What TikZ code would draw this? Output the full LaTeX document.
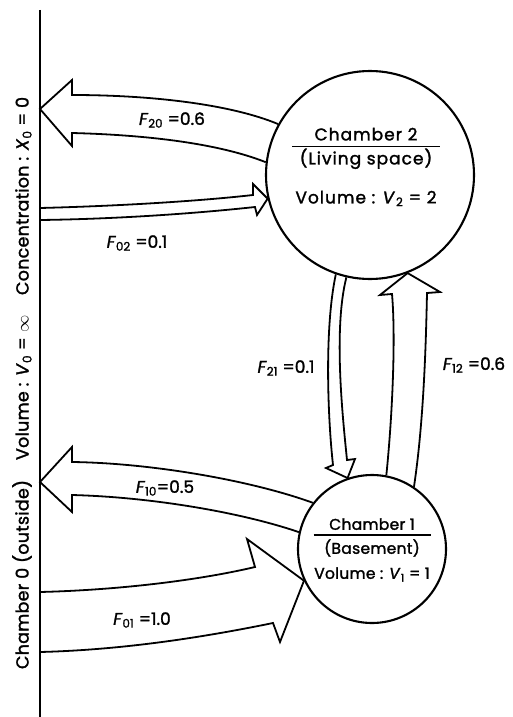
\documentclass[tikz,border=0pt]{standalone}
\usepackage{fontspec}
\setmainfont{Poppins}[UprightFeatures={FakeBold=1.6}, ItalicFeatures={FakeBold=1.6}]
\usetikzlibrary{positioning, calc, backgrounds}

\begin{document}
\begin{tikzpicture}[
      x=1pt, y=-1pt,
      chamber/.style = {
        circle, draw=black, line width=2.1pt, fill=white, inner sep=0pt
      },
      roomtxt/.style = {
        align=center, inner sep=0pt,
        font=\fontsize{17}{19}\selectfont\addfontfeature{LetterSpace=6}
      },
      flow/.style    = {draw=black, line width=1.8pt, line join=miter},
      flowlbl/.style = {font=\fontsize{17}{18}\selectfont, inner sep=1pt},
      walllbl/.style = {rotate=90,
        font=\fontsize{17.5}{19}\selectfont\addfontfeature{LetterSpace=1.5}}
    ]
      \useasboundingbox (0,0) rectangle (513,717);

      % ===================== Chambers =====================
      \node[chamber, minimum size=208pt] (ch2) at (370,175) {};
      \node[chamber, minimum size=148pt] (ch1) at (372,549) {};

      \node[roomtxt] (ch2txt) at (366,167)
        {Chamber 2\\[-12pt]\rule{148pt}{1.5pt}\\[-2pt](Living space)\\[20pt]
         Volume : \textit{V}\textsubscript{2} = 2};
      \node[roomtxt, font=\fontsize{15.5}{19}\selectfont\addfontfeature{LetterSpace=2}]
        (ch1txt) at (372,550)
        {Chamber 1\\[-13pt]\rule{117pt}{1.5pt}\\[-1pt](Basement)\\[6pt]
         Volume : \textit{V}\textsubscript{1} = 1};

      % ===================== Outside (chamber 0) =====================
      \coordinate (wallTop) at (40,10);
      \coordinate (wallBot) at (40,717);
      \draw[line width=1.6pt] (wallTop) -- (wallBot);
      \node[walllbl] (outside) at (22,383)
        {Chamber 0 (outside)\hspace{20pt}Volume : \textit{V}\textsubscript{0} = $\infty$\hspace{20pt}Concentration : \textit{X}\textsubscript{0} = 0};

      \coordinate (out20) at (40,109);
      \coordinate (in02a) at (40,208);
      \coordinate (in02b) at (40,220);
      \coordinate (out10) at (40,482);
      \coordinate (in01a) at (40,592);
      \coordinate (in01b) at (40,652);

      % ===================== Flows =====================
      \begin{scope}[on background layer]
        % chamber 2 -> outside
        \draw[flow] (ch2.151) .. controls (230,104) and (150,95) .. (72,95)
          -- (72,80) -- (out20) -- (72,146) -- (72,133)
          .. controls (150,135) and (220,144) .. (ch2.173);

        % outside -> chamber 2
        \draw[flow] (in02a) .. controls (120,206) and (200,201) .. (253,195)
          -- (253,184) -- (ch2.193) -- (257,215) -- (255,207)
          .. controls (200,213) and (120,219) .. (in02b);

        % chamber 2 -> chamber 1
        \draw[flow] (ch2.251) .. controls (324,330) and (328,420) .. (333,465)
          -- (326,468) -- (ch1.109) -- (355,459) -- (347,460)
          .. controls (343,420) and (333,330) .. (ch2.257);

        % chamber 1 -> chamber 2
        \draw[flow] (ch1.79) .. controls (392,420) and (396,340) .. (392,294)
          -- (380,295) -- (ch2.291) -- (440,292) -- (427,293)
          .. controls (426,340) and (424,420) .. (ch1.56);

        % chamber 1 -> outside
        \draw[flow] (ch1.142) .. controls (250,480) and (150,463) .. (72,462)
          -- (72,447) -- (out10) -- (72,512) -- (72,495)
          .. controls (150,497) and (240,512) .. (ch1.167);

        % outside -> chamber 1
        \draw[flow] (in01a) .. controls (120,590) and (200,580) .. (255,567)
          -- (247,539) -- (ch1.205) -- (280,642) -- (273,623)
          .. controls (200,638) and (120,650) .. (in01b);
      \end{scope}

      % ===================== Flow labels =====================
      \node[flowlbl] (l20) at (172,120) {\textit{F}\textsubscript{20} =0.6};
      \node[flowlbl] (l02) at (137,243) {\textit{F}\textsubscript{02} =0.1};
      \node[flowlbl] (l21) at (286,368) {\textit{F}\textsubscript{21} =0.1};
      \node[flowlbl] (l12) at (474,365) {\textit{F}\textsubscript{12} =0.6};
      \node[flowlbl] (l10) at (165,488) {\textit{F}\textsubscript{10}=0.5};
      \node[flowlbl] (l01) at (142,620) {\textit{F}\textsubscript{01} =1.0};

    \end{tikzpicture}
\end{document}
